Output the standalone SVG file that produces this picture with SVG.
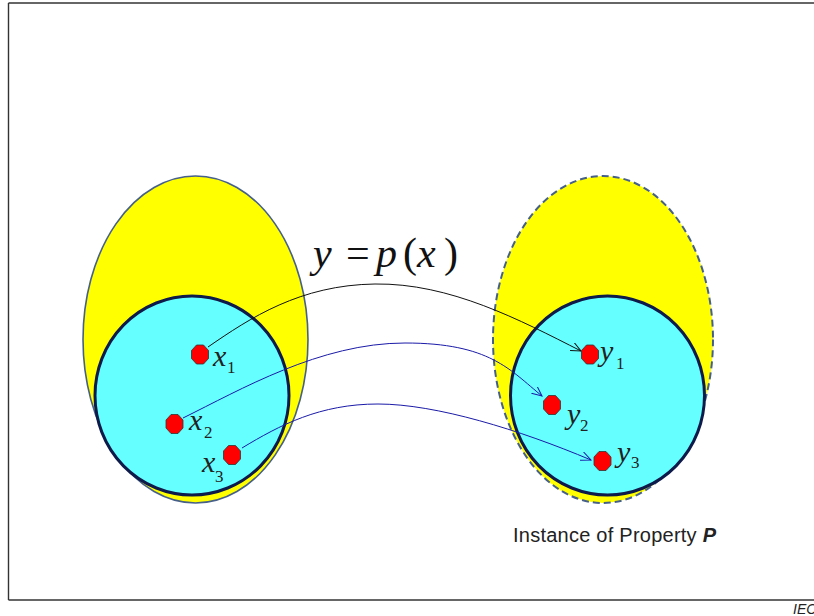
<svg xmlns="http://www.w3.org/2000/svg" width="814" height="616" viewBox="0 0 814 616">
<style>
.frame{fill:none;stroke:#333;stroke-width:1.4}
.outer{fill:#ffff00;stroke:#46608a;stroke-width:1.6}
.outer-d{fill:#ffff00;stroke:#46608a;stroke-width:2;stroke-dasharray:7 4}
.inner{fill:#66ffff;stroke:#0e1a4a;stroke-width:3}
.pt{fill:#ff0000;stroke:#333;stroke-width:0.8}
.lab{font-family:"Liberation Serif","Times New Roman",serif;font-style:italic;font-size:30px;fill:#222}
.sub{font-family:"Liberation Serif","Times New Roman",serif;font-style:normal;font-size:17px;fill:#222}
.f{font-family:"Liberation Serif","Times New Roman",serif;font-size:42px;fill:#111}
.c-black{fill:none;stroke:#111;stroke-width:1}
.c-blue{fill:none;stroke:#1a1aa8;stroke-width:1}
.cap{font-family:"Liberation Sans",Arial,sans-serif;font-size:20px;fill:#222}
</style>
<defs>
<polygon id="oct" points="-3.5,-9.5 3.5,-9.5 8.5,-4 8.5,4 3.5,9.5 -3.5,9.5 -8.5,4 -8.5,-4"/>
<marker id="ab" markerWidth="12" markerHeight="10" refX="10" refY="4.5" orient="auto" markerUnits="userSpaceOnUse">
<path d="M0,0 L10,4.5 L0,9" fill="none" stroke="#111" stroke-width="1"/>
</marker>
<marker id="au" markerWidth="12" markerHeight="10" refX="10" refY="4.5" orient="auto" markerUnits="userSpaceOnUse">
<path d="M0,0 L10,4.5 L0,9" fill="none" stroke="#1a1aa8" stroke-width="1"/>
</marker>
</defs>
<rect width="814" height="616" fill="#fff"/>
<line class="frame" x1="8.5" y1="3" x2="814" y2="3"/>
<line class="frame" x1="8.5" y1="3" x2="8.5" y2="600"/>
<line class="frame" x1="8.5" y1="600" x2="814" y2="600"/>

<g id="domain">
<ellipse class="outer" cx="195.5" cy="339.5" rx="112.5" ry="163.5"/>
<ellipse class="inner" cx="192" cy="395.5" rx="97" ry="99.5"/>
</g>
<g id="range">
<ellipse class="outer-d" cx="603" cy="339.5" rx="110" ry="163.5"/>
<ellipse class="inner" cx="607.5" cy="395.5" rx="97" ry="99.5"/>
</g>

<g id="connectors">
<path class="c-black" d="M208,347 C250,318 300,285 375,284 S520,320 581,351" marker-end="url(#ab)"/>
<path class="c-blue" d="M183,418 C240,390 320,343 405,343 S510,370 542,396" marker-end="url(#au)"/>
<path class="c-blue" d="M242,448 C280,425 320,404 378,404 S520,430 591,460" marker-end="url(#au)"/>
</g>

<g id="x1"><use href="#oct" class="pt" x="200" y="354.5"/><text class="lab" x="213" y="366">x</text><text class="sub" x="227" y="373">1</text></g>
<g id="x2"><use href="#oct" class="pt" x="174.5" y="424"/><text class="lab" x="189" y="430">x</text><text class="sub" x="204" y="438">2</text></g>
<g id="x3"><use href="#oct" class="pt" x="232" y="455"/><text class="lab" x="202" y="472">x</text><text class="sub" x="215" y="482">3</text></g>
<g id="y1"><use href="#oct" class="pt" x="590" y="354.5"/><text class="lab" x="600" y="361">y</text><text class="sub" x="616" y="369">1</text></g>
<g id="y2"><use href="#oct" class="pt" x="552" y="405"/><text class="lab" x="567" y="424">y</text><text class="sub" x="580" y="431">2</text></g>
<g id="y3"><use href="#oct" class="pt" x="602.5" y="461"/><text class="lab" x="617" y="462">y</text><text class="sub" x="631" y="468">3</text></g>

<g id="formula">
<text class="f" y="267"><tspan x="313" font-style="italic">y</tspan><tspan x="346">=</tspan><tspan x="376" font-style="italic">p</tspan><tspan x="403">(</tspan><tspan x="417" font-style="italic">x</tspan><tspan x="444">)</tspan></text>
</g>

<g id="caption">
<text class="cap" x="513" y="542" textLength="203" lengthAdjust="spacing">Instance of Property <tspan font-weight="bold" font-style="italic">P</tspan></text>
</g>
<text x="793" y="614" font-family="Liberation Sans,Arial,sans-serif" font-style="italic" font-size="14" fill="#222">IEC</text>
</svg>
